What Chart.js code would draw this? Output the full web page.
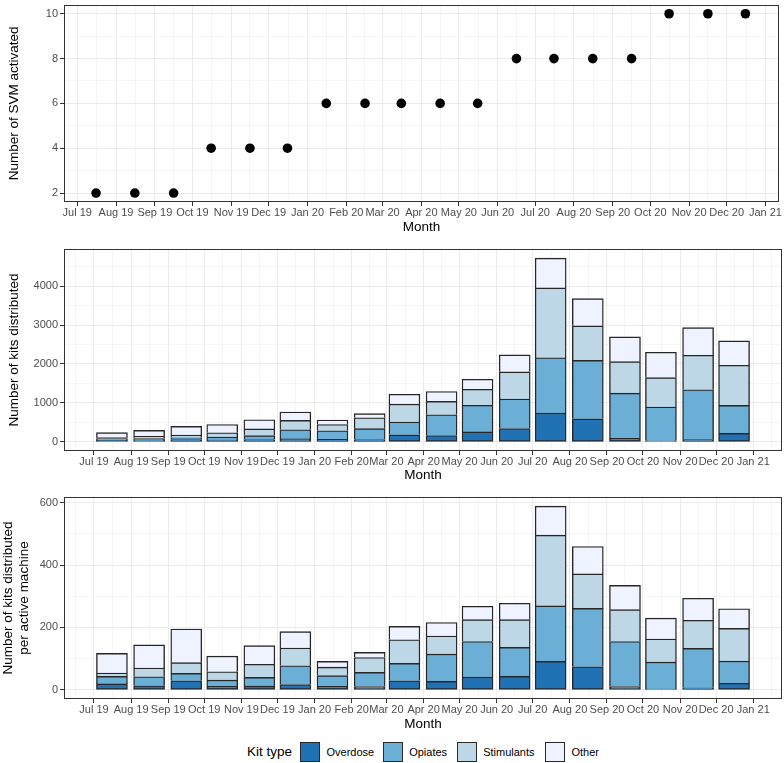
<!DOCTYPE html>
<html>
<head>
<meta charset="utf-8">
<script src="https://cdn.jsdelivr.net/npm/chart.js@4.4.1/dist/chart.umd.min.js"></script>
<style>
  body { margin: 0; background: #fff; width: 784px; height: 763px; position: relative; overflow: hidden; font-family: "Liberation Sans", Arial, sans-serif; }
  canvas { position: absolute; left: 0; }
  #legend span { position: absolute; white-space: nowrap; }
  #legend .key { width: 18px; height: 18px; border: 1px solid #2a2a2a; top: 742px; }
  #legend .lab { font-size: 11px; top: 745px; line-height: 14px; }
  #legend .ttl { font-size: 13.5px; top: 743px; line-height: 17px; left: 247px; }
</style>
</head>
<body>
<canvas id="svm" width="784" height="240" style="top:0"></canvas>
<canvas id="kits" width="784" height="250" style="top:240px"></canvas>
<canvas id="perMachine" width="784" height="245" style="top:490px"></canvas>
<div id="legend"></div>
<script>
// month tick labels (Jul 19 .. Jan 21), data are Jul 19 .. Dec 20
const months = ['Jul 19', 'Aug 19', 'Sep 19', 'Oct 19', 'Nov 19', 'Dec 19', 'Jan 20', 'Feb 20', 'Mar 20', 'Apr 20',
  'May 20', 'Jun 20', 'Jul 20', 'Aug 20', 'Sep 20', 'Oct 20', 'Nov 20', 'Dec 20', 'Jan 21'];

const svmActivated = [2, 2, 2, 4, 4, 4, 6, 6, 6, 6, 6, 8, 8, 8, 8, 10, 10, 10];

const kitTypes = ['Overdose', 'Opiates', 'Stimulants', 'Other'];
const kitColors = ['#2171b5', '#6baed6', '#bdd7e7', '#eff3ff'];

const kitsOverdose   = [38, 27, 58, 43, 60, 75, 62, 60, 180, 162, 255, 342, 738, 590, 90, 25, 55, 215];
const kitsOpiates    = [48, 59, 47, 81, 100, 235, 223, 278, 330, 533, 685, 758, 1422, 1502, 1160, 870, 1283, 720];
const kitsStimulants = [21, 56, 69, 108, 172, 240, 160, 279, 460, 345, 410, 698, 1795, 888, 810, 755, 887, 1033];
const kitsOther      = [128, 153, 224, 213, 234, 215, 115, 107, 253, 253, 257, 437, 763, 697, 635, 650, 708, 625];

const perMachineOverdose   = [19, 13, 29, 11, 12, 17, 11, 10.5, 29, 27, 40.7, 43, 91, 74, 10.7, 2, 6.4, 21];
const perMachineOpiates    = [24, 29, 23.5, 20, 28, 60, 34.5, 45.2, 56, 87.6, 114.3, 93, 178, 187, 144.3, 87, 126.6, 71];
const perMachineStimulants = [11, 28, 34.5, 27, 42, 57, 27, 47.8, 75.7, 57.9, 70, 89, 227, 110.8, 102, 74, 90, 105];
const perMachineOther      = [63, 74, 108, 50, 59.5, 52.5, 18.5, 16.5, 42.9, 43.5, 43, 52.5, 93, 87.8, 78, 67, 70.6, 63];

const svmTicks = [2, 4, 6, 8, 10];
const kitsTicks = [0, 1000, 2000, 3000, 4000];
const perMachineTicks = [0, 200, 400, 600];

// x axis is in days since 1 Jul 2019
const DAY = 864e5;
const monthStart = months.map((m, i) => (Date.UTC(2019, 6 + i, 1) - Date.UTC(2019, 6, 1)) / DAY);
const monthMid = monthStart.slice(0, -1).map(d => d + 15);

const FONT = '"Liberation Sans", Arial, sans-serif';
const GRID = '#ebebeb';

function minorBreaks(b) {
  const ext = [2 * b[0] - b[1], ...b, 2 * b[b.length - 1] - b[b.length - 2]];
  return ext.slice(1).map((v, i) => (v + ext[i]) / 2);
}

function tickSet(majors, min, max) {
  return majors.map(v => ({ value: v, minor: false }))
    .concat(minorBreaks(majors).map(v => ({ value: v, minor: true })))
    .filter(t => t.value >= min && t.value <= max)
    .sort((a, b) => a.value - b.value);
}

const gridStyle = {
  offset: false,
  color: GRID,
  lineWidth: c => (c.tick && c.tick.minor ? 0.5 : 1),
  tickColor: c => (c.tick && c.tick.minor ? 'rgba(0,0,0,0)' : '#333'),
  tickLength: 4,
  tickWidth: 1
};

function xAxis(min, max, height, titlePad) {
  return {
    type: 'linear', min: min, max: max, stacked: true, offset: false,
    border: { display: false },
    grid: gridStyle,
    ticks: {
      autoSkip: false, maxRotation: 0, minRotation: 0, padding: 0,
      color: '#4d4d4d', font: { family: FONT, size: 11 },
      callback: v => { const i = monthStart.indexOf(v); return i < 0 ? '' : months[i]; }
    },
    title: { display: true, text: 'Month', color: '#000', font: { family: FONT, size: 13.5 }, padding: { top: 0, bottom: titlePad } },
    afterBuildTicks: s => { s.ticks = tickSet(monthStart, min, max); },
    afterFit: s => { s.height = height; s.paddingLeft = 0; s.paddingRight = 0; }
  };
}

function yAxis(min, max, majors, title, titlePad) {
  return {
    type: 'linear', min: min, max: max, stacked: true,
    border: { display: false },
    grid: gridStyle,
    ticks: {
      padding: 2, color: '#4d4d4d', font: { family: FONT, size: 11 },
      callback: v => (majors.includes(v) ? String(v) : '')
    },
    title: { display: true, text: title, color: '#000', font: { family: FONT, size: 13.5 }, padding: { top: titlePad, bottom: 0 } },
    afterBuildTicks: s => { s.ticks = tickSet(majors, min, max); },
    afterFit: s => { s.width = 64; s.paddingTop = 0; s.paddingBottom = 0; }
  };
}

const panelBorder = {
  id: 'panelBorder',
  afterDraw(chart) {
    const { ctx, chartArea: a } = chart;
    const l = Math.round(a.left), t = Math.round(a.top), r = Math.round(a.right), b = Math.round(a.bottom);
    ctx.save();
    ctx.strokeStyle = '#333';
    ctx.lineWidth = 1;
    ctx.strokeRect(l + 0.5, t + 0.5, r - l - 1, b - t - 1);
    ctx.restore();
  }
};

function options(top, x, y) {
  return {
    responsive: false,
    animation: false,
    layout: { padding: { top: top, right: 2, bottom: 0, left: 0 } },
    plugins: { legend: { display: false }, tooltip: { enabled: false } },
    scales: { x: x, y: y }
  };
}

function kitDatasets(series) {
  return series.map((values, k) => ({
    label: kitTypes[k],
    data: values.map((v, i) => ({ x: monthMid[i], y: v })),
    backgroundColor: kitColors[k],
    borderColor: '#262626',
    borderWidth: 1.4,
    borderSkipped: k === 0 ? false : 'start',
    barThickness: 31
  }));
}

new Chart(document.getElementById('svm'), {
  type: 'scatter',
  data: {
    datasets: [{
      data: svmActivated.map((v, i) => ({ x: monthMid[i], y: v })),
      pointRadius: 4.8, pointHoverRadius: 4.8,
      backgroundColor: '#000', borderWidth: 0
    }]
  },
  options: options(0, xAxis(-10.6, 561, 38, 4.7), yAxis(1.6, 10.4, svmTicks, 'Number of SVM activated', 6)),
  plugins: [panelBorder]
});

new Chart(document.getElementById('kits'), {
  type: 'bar',
  data: { datasets: kitDatasets([kitsOverdose, kitsOpiates, kitsStimulants, kitsOther]) },
  options: options(9, xAxis(-25, 574, 39, 6.2), yAxis(-236, 4954, kitsTicks, 'Number of kits distributed', 6)),
  plugins: [panelBorder]
});

new Chart(document.getElementById('perMachine'), {
  type: 'bar',
  data: { datasets: kitDatasets([perMachineOverdose, perMachineOpiates, perMachineStimulants, perMachineOther]) },
  options: options(7, xAxis(-25, 574, 36, 2.2),
    yAxis(-29.5, 618.5, perMachineTicks, ['Number of kits distributed', 'per active machine'], 0)),
  plugins: [panelBorder]
});

// legend
const legend = document.getElementById('legend');
const keyLeft = [300, 382.7, 456.7, 545];
let html = '<span class="ttl">Kit type</span>';
kitTypes.forEach((name, k) => {
  html += '<span class="key" style="left:' + keyLeft[k] + 'px;background:' + kitColors[k] + '"></span>';
  html += '<span class="lab" style="left:' + (keyLeft[k] + 26.5) + 'px">' + name + '</span>';
});
legend.innerHTML = html;
</script>
</body>
</html>
